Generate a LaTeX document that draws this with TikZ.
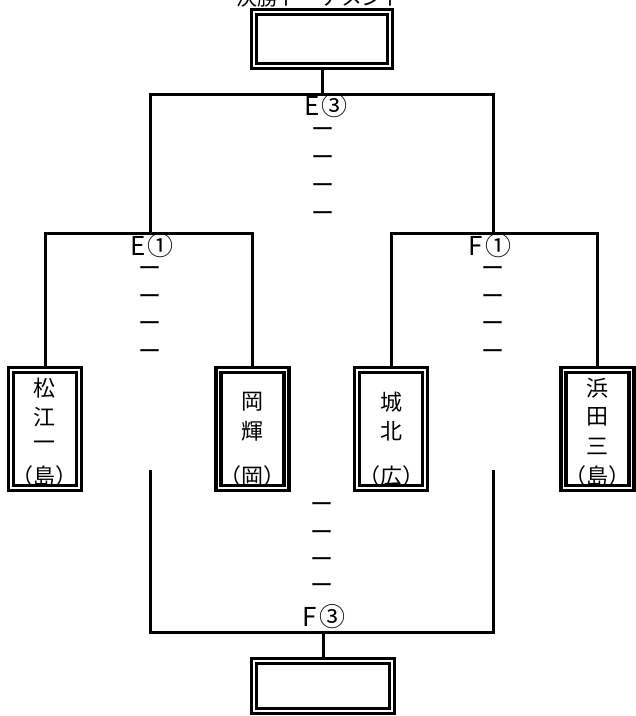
\documentclass[tikz,border=0pt]{standalone}
\usepackage{fontspec}
\newfontfamily\jp{Noto Sans CJK JP}
\usetikzlibrary{backgrounds}
\begin{document}
\begin{tikzpicture}[x=1pt,y=-1pt,
  conn/.style={line width=3pt, line join=miter},
  dbox/.style={draw, line width=3.2pt, double distance=1.8pt, inner sep=0pt, line join=miter},
  smallbox/.style={dbox, minimum width=68pt, minimum height=118pt},
  bigbox/.style={dbox, minimum width=136pt, minimum height=54pt},
  ch/.style={font=\jp\fontsize{22}{27}\selectfont, inner sep=0pt},
  lab/.style={font=\jp\fontsize{26}{30}\selectfont, inner sep=0pt},
  dashmark/.style={font=\jp\fontsize{23}{29}\selectfont, inner sep=0pt}
]
\useasboundingbox (0,0) rectangle (636,716);

% boxes
\node[bigbox] (top) at (322,39) {};
\node[dbox, minimum width=138pt, minimum height=50pt] (bot) at (323,686) {};
\node[smallbox] (b1) at (45,429) {};
\node[smallbox] (b2) at (252.5,429) {};
\node[smallbox] (b3) at (391,429) {};
\node[smallbox] (b4) at (597.5,429) {};

% title (cut off at top)
\node[font=\jp\fontsize{21}{27}\selectfont, inner sep=0pt, anchor=base] (title) at (320,5) {決勝トーナメント};

% coordinates of the bracket
\coordinate (h1L) at (150,94);
\coordinate (h1R) at (493,94);
\coordinate (h2L) at (45,233);
\coordinate (h2R) at (252.5,233);
\coordinate (h3L) at (391,233);
\coordinate (h3R) at (597.5,233);
\coordinate (h4L) at (150,632);
\coordinate (h4R) at (493,632);
\coordinate (v4L) at (150,470);
\coordinate (v4R) at (493,470);

\begin{scope}[on background layer]
\draw[conn] (top.south) -- (top.south |- h1L);
\draw[conn] (h1L |- h2L) -- (h1L) -- (h1R) -- (h1R |- h3L);
\draw[conn] (b1.north) -- (h2L) -- (h2R) -- (b2.north);
\draw[conn] (b3.north) -- (h3L) -- (h3R) -- (b4.north);
\draw[conn] (v4L) -- (h4L) -- (h4R) -- (v4R);
\draw[conn] (bot.north) -- (bot.north |- h4L);
\end{scope}

% labels
\node[lab] (le3) at (326,106) {E\kern2pt③};
\node[lab] (le1) at (152,246) {E\kern2pt①};
\node[lab] (lf1) at (490,246) {F\kern2pt①};
\node[lab] (lf3) at (324,617) {F\kern2pt③};

% dashes
\foreach \y [count=\i] in {133,161,189,217} \node[dashmark] (de3\i) at (323,\y) {ー};
\foreach \y [count=\i] in {272,300,327,355} \node[dashmark] (de1\i) at (150,\y) {ー};
\foreach \y [count=\i] in {272,300,327,355} \node[dashmark] (df1\i) at (493,\y) {ー};
\foreach \y [count=\i] in {508,536,563,589} \node[dashmark] (df3\i) at (322,\y) {ー};

% team names
\node[ch] (n1a) at (45,388) {松};
\node[ch] (n1b) at (45,417) {江};
\node[ch] (n1c) at (45,446) {一};
\node[ch] (n2a) at (252.5,402) {岡};
\node[ch] (n2b) at (252.5,431) {輝};
\node[ch] (n3a) at (391,402) {城};
\node[ch] (n3b) at (391,431) {北};
\node[ch] (n4a) at (597.5,388) {浜};
\node[ch] (n4b) at (597.5,417) {田};
\node[ch] (n4c) at (597.5,446) {三};
\node[ch] (p1) at (45,476) {（島）};
\node[ch] (p2) at (252.5,476) {（岡）};
\node[ch] (p3) at (391,476) {（広）};
\node[ch] (p4) at (597.5,476) {（島）};
\end{tikzpicture}
\end{document}
